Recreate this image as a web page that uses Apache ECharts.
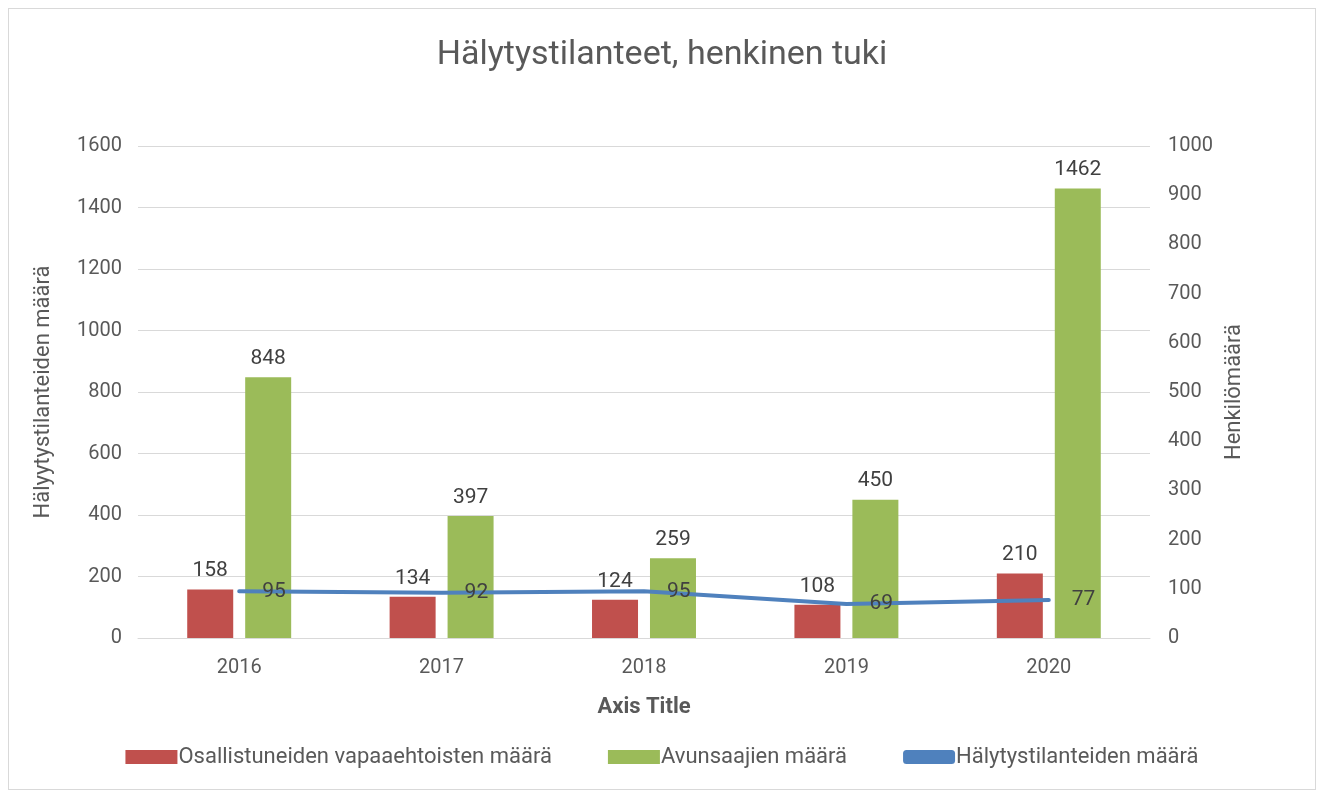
<!DOCTYPE html>
<html lang="fi">
<head>
    <meta charset="UTF-8">
    <title>Hälytystilanteet, henkinen tuki</title>
    <style>
        html, body { margin: 0; padding: 0; background: #fff; }
        #main {
            position: absolute;
            left: 8px;
            top: 8px;
            width: 1308px;
            height: 782px;
            border: 1px solid #d9d9d9;
            box-sizing: border-box;
        }
    </style>
</head>
<body>
    <div id="main"></div>
    <script src="https://cdn.jsdelivr.net/npm/echarts@6.0.0/dist/echarts.min.js"></script>
    <script>
        const years = ['2016', '2017', '2018', '2019', '2020'];
        const volunteers = [158, 134, 124, 108, 210];
        const recipients = [848, 397, 259, 450, 1462];
        const alarms = [95, 92, 95, 69, 77];

        const font = '"Roboto", sans-serif';
        const txt = '#595959';

        const myChart = echarts.init(document.getElementById('main'));
        const option = {
            animation: false,
            textStyle: { fontFamily: font },
            title: {
                text: 'Hälytystilanteet, henkinen tuki',
                left: 'center',
                top: 24,
                textStyle: { fontFamily: font, fontSize: 34, fontWeight: 'normal', color: txt }
            },
            legend: {
                bottom: 16,
                left: 'center',
                itemGap: 56,
                itemWidth: 52,
                itemHeight: 14,
                textStyle: { fontFamily: font, fontSize: 22, color: txt, padding: [0, 0, 0, -4] },
                data: [
                    { name: 'Osallistuneiden vapaaehtoisten määrä', icon: 'rect' },
                    { name: 'Avunsaajien määrä', icon: 'rect' },
                    { name: 'Hälytystilanteiden määrä', icon: 'roundRect' }
                ]
            },
            grid: { left: 129, right: 165, top: 137, bottom: 151 },
            xAxis: {
                type: 'category',
                data: years,
                name: 'Axis Title',
                nameLocation: 'middle',
                nameGap: 58,
                nameTextStyle: { fontFamily: font, fontSize: 22, color: txt, fontWeight: 'bold' },
                axisLine: { lineStyle: { color: '#d9d9d9', width: 1 } },
                axisTick: { show: false },
                axisLabel: { fontSize: 20, color: txt, margin: 20 }
            },
            yAxis: [
                {
                    type: 'value',
                    min: 0, max: 1600, interval: 200,
                    name: 'Hälyytystilanteiden määrä',
                    nameLocation: 'middle',
                    nameRotate: 90,
                    nameGap: 84,
                    nameTextStyle: { fontFamily: font, fontSize: 22, color: txt },
                    axisLabel: { fontSize: 20, color: txt, margin: 16, formatter: v => String(v) },
                    axisLine: { show: false },
                    axisTick: { show: false },
                    splitLine: { lineStyle: { color: '#d9d9d9', width: 1 } }
                },
                {
                    type: 'value',
                    min: 0, max: 1000, interval: 100,
                    name: 'Henkilömäärä',
                    nameLocation: 'middle',
                    nameRotate: 90,
                    nameGap: 92,
                    nameTextStyle: { fontFamily: font, fontSize: 22, color: txt, verticalAlign: 'bottom' },
                    axisLabel: { fontSize: 20, color: txt, margin: 18, formatter: v => String(v) },
                    axisLine: { show: false },
                    axisTick: { show: false },
                    splitLine: { show: false }
                }
            ],
            series: [
                {
                    name: 'Osallistuneiden vapaaehtoisten määrä',
                    type: 'bar',
                    yAxisIndex: 0,
                    data: volunteers,
                    barWidth: 46,
                    barGap: '26%',
                    itemStyle: { color: '#c0504d' },
                    label: { show: true, position: 'top', distance: 8, fontSize: 21, color: '#404040' }
                },
                {
                    name: 'Avunsaajien määrä',
                    type: 'bar',
                    yAxisIndex: 0,
                    data: recipients,
                    barWidth: 46,
                    itemStyle: { color: '#9bbb59' },
                    label: { show: true, position: 'top', distance: 8, fontSize: 21, color: '#404040' }
                },
                {
                    name: 'Hälytystilanteiden määrä',
                    type: 'line',
                    yAxisIndex: 1,
                    data: alarms,
                    symbol: 'circle',
                    symbolSize: 2,
                    showSymbol: true,
                    lineStyle: { color: '#4f81bd', width: 4, cap: 'round' },
                    itemStyle: { color: '#4f81bd' },
                    label: { show: true, position: 'right', distance: 22, fontSize: 21, color: '#404040' },
                    labelLayout: { hideOverlap: false },
                    z: 5
                }
            ]
        };
        myChart.setOption(option);
    </script>
</body>
</html>
